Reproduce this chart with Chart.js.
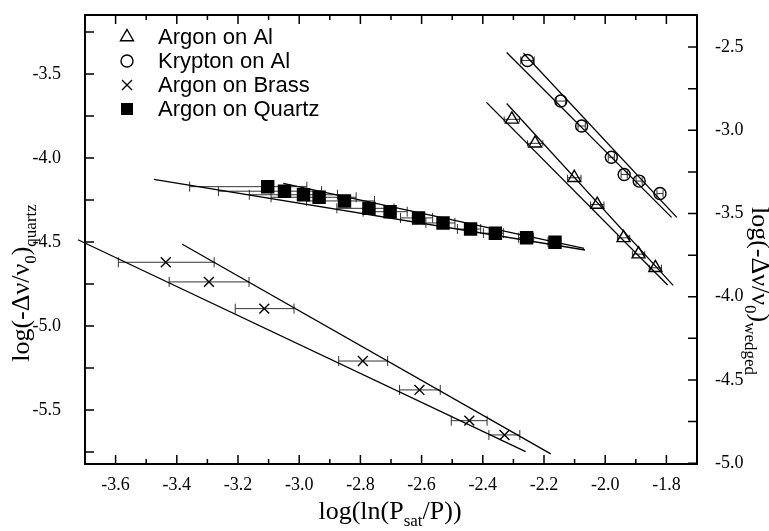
<!DOCTYPE html>
<html>
<head>
<meta charset="utf-8">
<script src="https://cdn.jsdelivr.net/npm/chart.js@4.4.0/dist/chart.umd.min.js"></script>
<style>
  html, body { margin: 0; padding: 0; background: #fff; }
  canvas { display: block; }
</style>
</head>
<body>
<canvas id="myChart" width="769" height="531"></canvas>
<script>
// Argon on Al (right axis, wedged)
const argonAlX = [-2.305, -2.229, -2.101, -2.026, -1.940, -1.891, -1.836];
const argonAlY = [-2.934, -3.078, -3.285, -3.446, -3.646, -3.744, -3.826];
const argonAlErr = [0.025, 0.025, 0.022, 0.022, 0.02, 0.02, 0.02];

// Krypton on Al (right axis, wedged)
const kryptonAlX = [-2.254, -2.145, -2.077, -1.980, -1.938, -1.889, -1.821];
const kryptonAlY = [-2.580, -2.824, -2.974, -3.162, -3.265, -3.305, -3.380];
const kryptonAlErr = [0.022, 0.015, 0.012, 0.01, 0.01, 0.01, 0.01];

// Argon on Brass (left axis)
const brassX = [-3.436, -3.295, -3.114, -2.792, -2.607, -2.444, -2.329];
const brassY = [-4.621, -4.738, -4.897, -5.209, -5.381, -5.564, -5.649];
const brassErrLo = [0.155, 0.130, 0.095, 0.079, 0.065, 0.059, 0.051];
const brassErrHi = [0.158, 0.131, 0.097, 0.081, 0.068, 0.058, 0.050];

// Argon on Quartz (left axis)
const quartzX = [-3.103, -3.048, -2.986, -2.935, -2.852, -2.772, -2.703, -2.610, -2.530, -2.440, -2.359, -2.257, -2.164];
const quartzY = [-4.171, -4.198, -4.219, -4.234, -4.256, -4.300, -4.320, -4.357, -4.387, -4.423, -4.448, -4.475, -4.502];
const quartzErrLo = [0.255, 0.216, 0.177, 0.157, 0.124, 0.105, 0.088, 0.059, 0.056, 0.043, 0.039, 0.026, 0.023];
const quartzErrHi = [0.128, 0.121, 0.111, 0.121, 0.098, 0.082, 0.056, 0.046, 0.039, 0.033, 0.026, 0.023, 0.016];

// linear fits (end points)
const argonAlFitA = { x: [-2.388, -1.796], y: [-2.832, -3.929] };
const argonAlFitB = { x: [-2.322, -1.778], y: [-2.839, -3.932] };
const kryptonFitA = { x: [-2.322, -1.783], y: [-2.532, -3.523] };
const kryptonFitB = { x: [-2.267, -1.766], y: [-2.537, -3.523] };
const brassFitA = { x: [-3.723, -2.260], y: [-4.487, -5.748] };
const brassFitB = { x: [-3.382, -2.178], y: [-4.514, -5.762] };
const quartzFitA = { x: [-3.475, -2.066], y: [-4.128, -4.548] };
const quartzFitB = { x: [-3.052, -2.069], y: [-4.151, -4.538] };

// axis ticks
const xTicks = [-3.6, -3.4, -3.2, -3.0, -2.8, -2.6, -2.4, -2.2, -2.0, -1.8];
const xMinorTicks = [-3.5, -3.3, -3.1, -2.9, -2.7, -2.5, -2.3, -2.1, -1.9];
const yLeftTicks = [-3.5, -4.0, -4.5, -5.0, -5.5];
const yLeftMinor = [-3.25, -3.75, -4.25, -4.75, -5.25, -5.75];
const yRightTicks = [-2.5, -3.0, -3.5, -4.0, -4.5, -5.0];
const yRightMinor = [-2.75, -3.25, -3.75, -4.25, -4.75];

const legendLabels = ['Argon on Al', 'Krypton on Al', 'Argon on Brass', 'Argon on Quartz'];

const SERIF = '"Liberation Serif", "Times New Roman", serif';
const SANS = '"Liberation Sans", Arial, sans-serif';

function pts(xs, ys) {
    return xs.map((v, i) => ({ x: v, y: ys[i] }));
}

function fitLine(fit, axis, extra) {
    return Object.assign({
        data: pts(fit.x, fit.y),
        yAxisID: axis,
        borderColor: '#000',
        borderWidth: 1.3,
        pointRadius: 0,
        fill: false,
        tension: 0,
        order: 2
    }, extra || {});
}

function markers(xs, ys, axis, style, radius, fillColor) {
    return {
        data: pts(xs, ys),
        yAxisID: axis,
        showLine: false,
        pointStyle: style,
        pointRadius: radius,
        pointHoverRadius: radius,
        pointBorderWidth: 1.4,
        pointBorderColor: '#000',
        pointBackgroundColor: fillColor,
        order: 1
    };
}

// horizontal error bars with caps
function drawXErr(ctx, xs, ys, lo, hi, xScale, yScale, cap) {
    for (let i = 0; i < xs.length; i++) {
        const y = yScale.getPixelForValue(ys[i]);
        const xl = xScale.getPixelForValue(xs[i] - lo[i]);
        const xr = xScale.getPixelForValue(xs[i] + hi[i]);
        ctx.beginPath();
        ctx.moveTo(xl, y); ctx.lineTo(xr, y);
        ctx.moveTo(xl, y - cap); ctx.lineTo(xl, y + cap);
        ctx.moveTo(xr, y - cap); ctx.lineTo(xr, y + cap);
        ctx.stroke();
    }
}

// text with subscripts, centred on x
function drawRich(ctx, parts, x, y, size, subSize) {
    let total = 0;
    parts.forEach(p => {
        ctx.font = (p.sub ? subSize : size) + 'px ' + SERIF;
        p.w = ctx.measureText(p.t).width;
        total += p.w;
    });
    let cx = x - total / 2;
    ctx.textAlign = 'left';
    ctx.textBaseline = 'alphabetic';
    parts.forEach(p => {
        ctx.font = (p.sub ? subSize : size) + 'px ' + SERIF;
        ctx.fillText(p.t, cx, y + (p.sub ? size * 0.28 : 0));
        cx += p.w;
    });
}

function legendMarker(ctx, kind, x, y) {
    ctx.beginPath();
    if (kind === 0) {
        const r = 7.5;
        ctx.moveTo(x, y - r);
        ctx.lineTo(x + 0.866 * r, y + 0.5 * r);
        ctx.lineTo(x - 0.866 * r, y + 0.5 * r);
        ctx.closePath();
        ctx.stroke();
    } else if (kind === 1) {
        ctx.arc(x, y, 6, 0, Math.PI * 2);
        ctx.stroke();
    } else if (kind === 2) {
        const d = 5;
        ctx.moveTo(x - d, y - d); ctx.lineTo(x + d, y + d);
        ctx.moveTo(x + d, y - d); ctx.lineTo(x - d, y + d);
        ctx.stroke();
    } else {
        ctx.fillRect(x - 6, y - 6, 12, 12);
    }
}

const extrasPlugin = {
    id: 'extras',
    beforeDatasetsDraw(chart) {
        const { ctx, scales } = chart;
        ctx.save();
        ctx.strokeStyle = '#333';
        ctx.lineWidth = 1;
        drawXErr(ctx, quartzX, quartzY, quartzErrLo, quartzErrHi, scales.x, scales.y, 5);
        drawXErr(ctx, brassX, brassY, brassErrLo, brassErrHi, scales.x, scales.y, 5);
        drawXErr(ctx, argonAlX, argonAlY, argonAlErr, argonAlErr, scales.x, scales.y2, 3);
        drawXErr(ctx, kryptonAlX, kryptonAlY, kryptonAlErr, kryptonAlErr, scales.x, scales.y2, 4);
        ctx.restore();
    },
    afterDraw(chart) {
        const { ctx, chartArea: a, scales } = chart;
        ctx.save();
        ctx.strokeStyle = '#000';
        ctx.fillStyle = '#000';

        // frame
        ctx.lineWidth = 2;
        ctx.strokeRect(a.left, a.top, a.right - a.left, a.bottom - a.top);

        // inward ticks
        ctx.lineWidth = 1.5;
        ctx.beginPath();
        const xt = (vals, len) => vals.forEach(v => {
            const px = scales.x.getPixelForValue(v);
            ctx.moveTo(px, a.bottom); ctx.lineTo(px, a.bottom - len);
            ctx.moveTo(px, a.top); ctx.lineTo(px, a.top + len);
        });
        xt(xTicks, 9); xt(xMinorTicks, 5);
        const yt = (vals, len, scale, side) => vals.forEach(v => {
            const py = scale.getPixelForValue(v);
            if (py < a.top || py > a.bottom) return;
            const x0 = side === 'left' ? a.left : a.right;
            ctx.moveTo(x0, py); ctx.lineTo(side === 'left' ? x0 + len : x0 - len, py);
        });
        yt(yLeftTicks, 9, scales.y, 'left'); yt(yLeftMinor, 9, scales.y, 'left');
        yt(yRightTicks, 9, scales.y2, 'right'); yt(yRightMinor, 9, scales.y2, 'right');
        ctx.stroke();

        // legend
        ctx.lineWidth = 1.4;
        legendLabels.forEach((label, i) => {
            const ly = 37 + i * 24;
            legendMarker(ctx, i, 127, ly);
            ctx.font = '22px ' + SANS;
            ctx.textAlign = 'left';
            ctx.textBaseline = 'middle';
            ctx.fillText(label, 158, ly + 1);
        });

        // axis titles
        drawRich(ctx, [{ t: 'log(ln(P' }, { t: 'sat', sub: true }, { t: '/P))' }], 390, 519, 26, 17);

        ctx.save();
        ctx.translate(29, 283);
        ctx.rotate(-Math.PI / 2);
        drawRich(ctx, [{ t: 'log(-\u0394\u03bd/\u03bd' }, { t: '0', sub: true }, { t: ')' }, { t: 'quartz', sub: true }], 0, 0, 26, 17);
        ctx.restore();

        ctx.save();
        ctx.translate(752, 291);
        ctx.rotate(Math.PI / 2);
        drawRich(ctx, [{ t: 'log(-\u0394\u03bd/\u03bd' }, { t: '0', sub: true }, { t: ')' }, { t: 'wedged', sub: true }], 0, 0, 26, 17);
        ctx.restore();

        ctx.restore();
    }
};

function fixedTicks(values) {
    return scale => { scale.ticks = values.map(v => ({ value: v })); };
}

// pin the plot frame: no automatic label padding
function fixSize(dim, value) {
    return s => {
        s[dim] = value;
        s.paddingTop = 0; s.paddingBottom = 0;
        s.paddingLeft = 0; s.paddingRight = 0;
    };
}

const tickFont = { family: SERIF, size: 18 };

new Chart(document.getElementById('myChart').getContext('2d'), {
    type: 'line',
    data: {
        datasets: [
            fitLine(argonAlFitA, 'y2'),
            fitLine(argonAlFitB, 'y2'),
            fitLine(kryptonFitA, 'y2'),
            fitLine(kryptonFitB, 'y2'),
            fitLine(brassFitA, 'y', { clip: 12 }),
            fitLine(brassFitB, 'y'),
            fitLine(quartzFitA, 'y'),
            fitLine(quartzFitB, 'y'),
            markers(argonAlX, argonAlY, 'y2', 'triangle', 7.5, 'rgba(0,0,0,0)'),
            markers(kryptonAlX, kryptonAlY, 'y2', 'circle', 6, 'rgba(0,0,0,0)'),
            markers(brassX, brassY, 'y', 'crossRot', 7, '#000'),
            markers(quartzX, quartzY, 'y', 'rect', 8.5, '#000')
        ]
    },
    options: {
        responsive: false,
        animation: false,
        layout: { padding: { top: 15, left: 0, right: 0, bottom: 0 } },
        scales: {
            x: {
                type: 'linear',
                min: -3.7,
                max: -1.7,
                afterBuildTicks: fixedTicks(xTicks),
                afterFit: fixSize('height', 67),
                grid: { display: false },
                border: { display: false },
                ticks: {
                    autoSkip: false, maxRotation: 0, padding: 2,
                    color: '#000', font: tickFont,
                    callback: v => v.toFixed(1)
                }
            },
            y: {
                type: 'linear',
                position: 'left',
                min: -5.822,
                max: -3.149,
                afterBuildTicks: fixedTicks(yLeftTicks),
                afterFit: fixSize('width', 85),
                grid: { display: false },
                border: { display: false },
                ticks: {
                    autoSkip: false, padding: 16,
                    color: '#000', font: tickFont,
                    callback: v => v.toFixed(1)
                }
            },
            y2: {
                type: 'linear',
                position: 'right',
                min: -5.005,
                max: -2.307,
                afterBuildTicks: fixedTicks(yRightTicks),
                afterFit: fixSize('width', 72),
                grid: { display: false },
                border: { display: false },
                ticks: {
                    autoSkip: false, padding: 10,
                    color: '#000', font: tickFont,
                    callback: v => v.toFixed(1)
                }
            }
        },
        plugins: {
            legend: { display: false },
            tooltip: { enabled: false }
        }
    },
    plugins: [extrasPlugin]
});
</script>
</body>
</html>
